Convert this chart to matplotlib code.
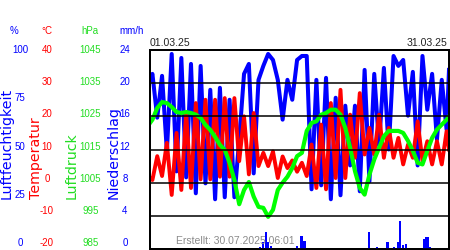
import numpy as np
import matplotlib
matplotlib.use("Agg")
import matplotlib.pyplot as plt

# time axis: days since 01.03.25 00:00 (start, then 06:00 / 18:00 each day, end)
t = np.concatenate([[0.0], np.arange(0.25, 31, 0.5), [31.0]])

humidity = [85,
            88, 66, 87, 49, 98, 39, 96, 36, 93, 28,
            92, 33, 80, 25, 81, 26, 75, 26, 55, 88,
            93, 38, 85, 92, 98, 95, 85, 65, 85, 75,
            95, 97, 97, 30, 85, 32, 86, 25, 76, 27,
            72, 42, 72, 29, 90, 34, 88, 52, 91, 50,
            97, 92, 95, 67, 89, 42, 97, 70, 88, 55,
            85, 60,
            90]

temperature = [1.5,
               0.8, 8, 2, 12, -3.7, 15, -2.2, 21, -1.6, 24,
               1, 25, 1, 25, 1.8, 25.5, 1.8, 25.5, 6.5, 20,
               2.5, 21, 5, 9, 5, 9.4, 1.4, 7.9, 4.4, 6.7,
               3.3, 6, 2, 11.5, -1.6, 17.5, -2, 24, 1.4, 28,
               1.4, 20.5, 7.5, 27, 8.5, 16.5, 8.5, 20.5, 7.5, 16.5,
               7.5, 13.5, 5.5, 11.5, 7.5, 18.5, 6.5, 12.5, 5.5, 12.5,
               5.5, 15.5,
               10]

pressure = [1023,
            1024, 1027.5, 1029.3, 1029, 1027.8, 1026.3, 1026, 1026.3, 1026, 1025.5,
            1024.5, 1022.4, 1020.9, 1018.8, 1016.4, 1014.9, 1011, 1005.8, 998.5, 1002.8,
            1005.2, 1000.8, 997.7, 997.4, 994.7, 996.8, 1002.8, 1005, 1006.8, 1009.4,
            1013, 1014, 1020.6, 1023, 1023.5, 1025.5, 1026, 1027, 1027, 1025.5,
            1021.5, 1015.5, 1008.5, 1003.4, 1001.4, 1007.4, 1012, 1015.5, 1019, 1020.6,
            1020.6, 1020.6, 1020, 1017.6, 1014.6, 1011, 1010.5, 1014.6, 1018.5, 1021,
            1022.5, 1024,
            1025]

rain_day = [11.3, 11.6, 11.9, 12.1, 12.4, 15.1, 15.6, 15.9, 22.6, 23.4,
            24.5, 25.2, 25.6, 25.8, 26.1, 26.4, 28.3, 28.5, 28.7, 28.9]
rain_mm = [0.3, 0.8, 2.0, 0.8, 0.4, 0.4, 1.6, 1.0, 2.0, 0.3,
           0.8, 0.3, 0.8, 3.4, 0.5, 0.6, 1.2, 1.4, 1.5, 0.3]

hum_ticks = [100, 75, 50, 25, 0]
temp_ticks = [40, 30, 20, 10, 0, -10, -20]
pres_ticks = [1045, 1035, 1025, 1015, 1005, 995, 985]
rain_ticks = [24, 20, 16, 12, 8, 4, 0]

BLUE = '#0000ff'
RED = '#ff0000'
GREEN = '#00ff00'
LBL_GREEN = '#22dd22'

W, H = 450, 250
fig = plt.figure(figsize=(4.5, 2.5), dpi=100)
plt.rcParams['font.family'] = ['Liberation Sans', 'DejaVu Sans']


def px(x, y):
    return x / W, 1 - y / H


# main plot area, one twin axis per quantity
ax = fig.add_axes([150 / W, 1 - 249 / H, 299 / W, 199 / H])
ax.set_xlim(0, 31)
ax.set_ylim(0, 100)
ax.plot(t, humidity, color=BLUE, lw=2.9)

ax_t = ax.twinx()
ax_t.set_ylim(-20, 40)
ax_t.plot(t, temperature, color=RED, lw=2.8)

ax_p = ax.twinx()
ax_p.set_ylim(985, 1045)
ax_p.plot(t, pressure, color=GREEN, lw=3)

ax_r = ax.twinx()
ax_r.set_ylim(0, 24)
ax_r.bar(rain_day, rain_mm, width=0.25, color=BLUE, align='edge')
ax_r.set_yticks([4, 8, 12, 16, 20])
ax_r.set_axisbelow(False)
ax_r.grid(axis='y', color='black', lw=1.1)

for a in (ax, ax_t, ax_p, ax_r):
    a.set_xticks([])
    a.tick_params(length=0, labelleft=False, labelright=False)
    for s in a.spines.values():
        s.set_color('black')
        s.set_linewidth(1.2)

# dates above the plot, creation stamp inside
fig.text(*px(150, 43), '01.03.25', ha='left', va='center', fontsize=7.6, color='#222222')
fig.text(*px(447, 43), '31.03.25', ha='right', va='center', fontsize=7.6, color='#222222')
fig.text(*px(176, 241), 'Erstellt: 30.07.2025 06:01', ha='left', va='center',
         fontsize=7.5, color='#8a8a8a')

# left scale columns
columns = [
    (20, hum_ticks, (0, 100), BLUE),
    (47, temp_ticks, (-20, 40), RED),
    (90.5, pres_ticks, (985, 1045), LBL_GREEN),
    (125, rain_ticks, (0, 24), BLUE),
]
for xc, ticks, lim, col in columns:
    la = fig.add_axes([0, 1 - 243 / H, 150 / W, 193 / H])
    la.set_ylim(*lim)
    la.set_xlim(0, 150)
    la.axis('off')
    for v in ticks:
        la.text(xc, v, str(v), ha='center', va='center', fontsize=7, color=col)

fig.text(*px(14, 31), '%', ha='center', va='center', fontsize=7, color=BLUE)
fig.text(*px(47, 31), '°C', ha='center', va='center', fontsize=7, color=RED)
fig.text(*px(90, 31), 'hPa', ha='center', va='center', fontsize=7, color=LBL_GREEN)
fig.text(*px(132, 31), 'mm/h', ha='center', va='center', fontsize=7, color=BLUE)

# vertical axis titles
for xc, label, col in [(7, 'Luftfeuchtigkeit', BLUE), (36, 'Temperatur', RED),
                       (72, 'Luftdruck', LBL_GREEN), (113.5, 'Niederschlag', BLUE)]:
    fig.text(*px(xc, 199), label, rotation=90, ha='center', va='bottom',
             fontsize=10.2, color=col, family='DejaVu Sans')

fig.savefig('out.png', dpi=100)
